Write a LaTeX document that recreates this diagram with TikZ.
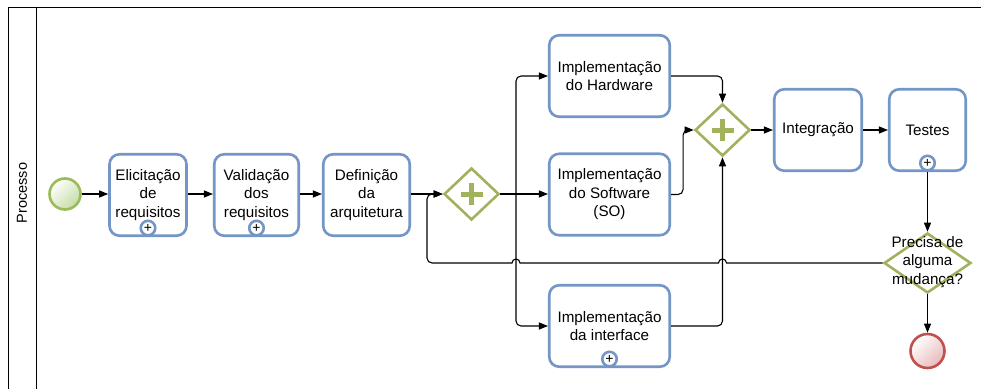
\documentclass[tikz,border=0pt]{standalone}
\usepackage{fontspec}
\setmainfont{Liberation Sans}
\usetikzlibrary{shapes.geometric,arrows.meta}

\definecolor{taskblue}{RGB}{116,150,198}
\definecolor{gwolive}{RGB}{160,178,92}
\definecolor{startgreen}{RGB}{155,187,89}
\definecolor{startfill}{RGB}{196,220,164}
\definecolor{endred}{RGB}{192,80,77}
\definecolor{endfill}{RGB}{232,186,186}

\tikzset{
  task/.style={draw=taskblue,line width=2.6pt,rounded corners=10pt,fill=white,
    minimum width=77pt,minimum height=81.5pt,align=center,inner sep=2pt},
  gateway/.style={diamond,draw=gwolive,line width=2.6pt,fill=white,
    minimum width=55pt,minimum height=52pt,inner sep=0pt},
  submark/.style={circle,draw=taskblue,line width=2.6pt,fill=white,
    minimum size=14.5pt,inner sep=0pt,font=\fontsize{14}{14}\selectfont},
  flow/.style={-{Triangle[length=9pt,width=7pt]},line width=1.1pt},
  line/.style={line width=1.1pt},
}

\begin{document}
\begin{tikzpicture}[x=1pt,y=-1pt,font=\fontsize{15.2}{18.5}\selectfont]
    \useasboundingbox (0,0) rectangle (981,388);
    \def\row{194}

    % pool
    \draw[line width=0.9pt] (8,400) -- (8,7) -- (990,7);
    \draw[line width=0.9pt] (36,7) -- (36,400);
    \node[rotate=90,font=\fontsize{14.5}{16}\selectfont] (pool) at (22,193) {Processo};

    \node[circle,draw=startgreen,line width=2.6pt,minimum size=31pt,inner sep=0pt,
      top color=white,bottom color=startfill,shading angle=45] (start) at (65,\row) {};
    \node[task] (elic) at (148,195) {Elicitação\\de\\requisitos};
    \node[task,minimum width=84.5pt] (valid) at (256.5,195) {Validação\\dos\\requisitos};
    \node[task,minimum width=86.5pt] (arq) at (366.5,195) {Definição\\da\\arquitetura};
    \node[gateway] (fork) at (471.5,\row) {};
    \node[task,minimum width=120.5pt] (hw) at (609.5,76) {Implementação\\do Hardware};
    \node[task,minimum width=120.5pt] (sw) at (609.5,194.5) {Implementação\\do Software\\(SO)};
    \node[task,minimum width=120.5pt] (ui) at (609.5,326) {Implementação\\da interface};
    \node[gateway] (join) at (722.5,130) {};
    \node[task,minimum width=87.5pt] (integ) at (818,130) {Integração};
    \node[task,minimum width=76.5pt] (test) at (927.5,130) {Testes};
    \node[gateway,minimum width=87pt,minimum height=60pt] (dec) at (927.5,263) {};
    \node[align=center,inner sep=0pt] (dectext) at (927.5,262) {Precisa de\\alguma\\mudança?};
    \node[circle,draw=endred,line width=2.6pt,minimum size=34pt,inner sep=0pt,
      top color=white,bottom color=endfill,shading angle=45] (end) at (927.5,351) {};

    % markers
    \foreach \t in {elic,valid,ui,test}
        \node[submark] at ([yshift=9pt]\t.south) {+};
    \foreach \g in {fork,join}{
        \draw[gwolive,line width=5pt] (\g.center) ++(-11,0) -- ++(22,0);
        \draw[gwolive,line width=5pt] (\g.center) ++(0,-11) -- ++(0,22);
    }

    \coordinate (split) at (516,\row);

    \draw[flow] (start) -- (start -| elic.west);
    \draw[flow] (elic.east |- start) -- (start -| valid.west);
    \draw[flow] (valid.east |- start) -- (start -| arq.west);
    \draw[flow] (arq.east |- start) -- (fork);
    \draw[line] (fork) -- (split);
    \draw[flow,rounded corners=5pt] (split) |- (hw);
    \draw[flow] (split) -- (split -| sw.west);
    \draw[flow,rounded corners=5pt] (split) |- (ui);
    \draw[flow,rounded corners=5pt] (hw) -| (join);
    \draw[flow,rounded corners=5pt] (sw.east) -- ++(12,0) |- (join);
    \draw[flow,rounded corners=5pt] (ui) -| (join);
    \draw[flow] (join) -- (integ);
    \draw[flow] (integ) -- (test);
    \draw[flow] (test) -- (dec);
    \draw[flow] (dec) -- (end);

    % loop back with hops
    \draw[flow] (dec.west) -- ([xshift=4pt]dec.west -| join.south)
        arc[start angle=0,end angle=180,radius=4pt]
        -- ([xshift=4pt]dec.west -| split)
        arc[start angle=0,end angle=180,radius=4pt]
        [rounded corners=5pt] -- (427,263) -- (427,\row) -- (fork.west);
\end{tikzpicture}
\end{document}
